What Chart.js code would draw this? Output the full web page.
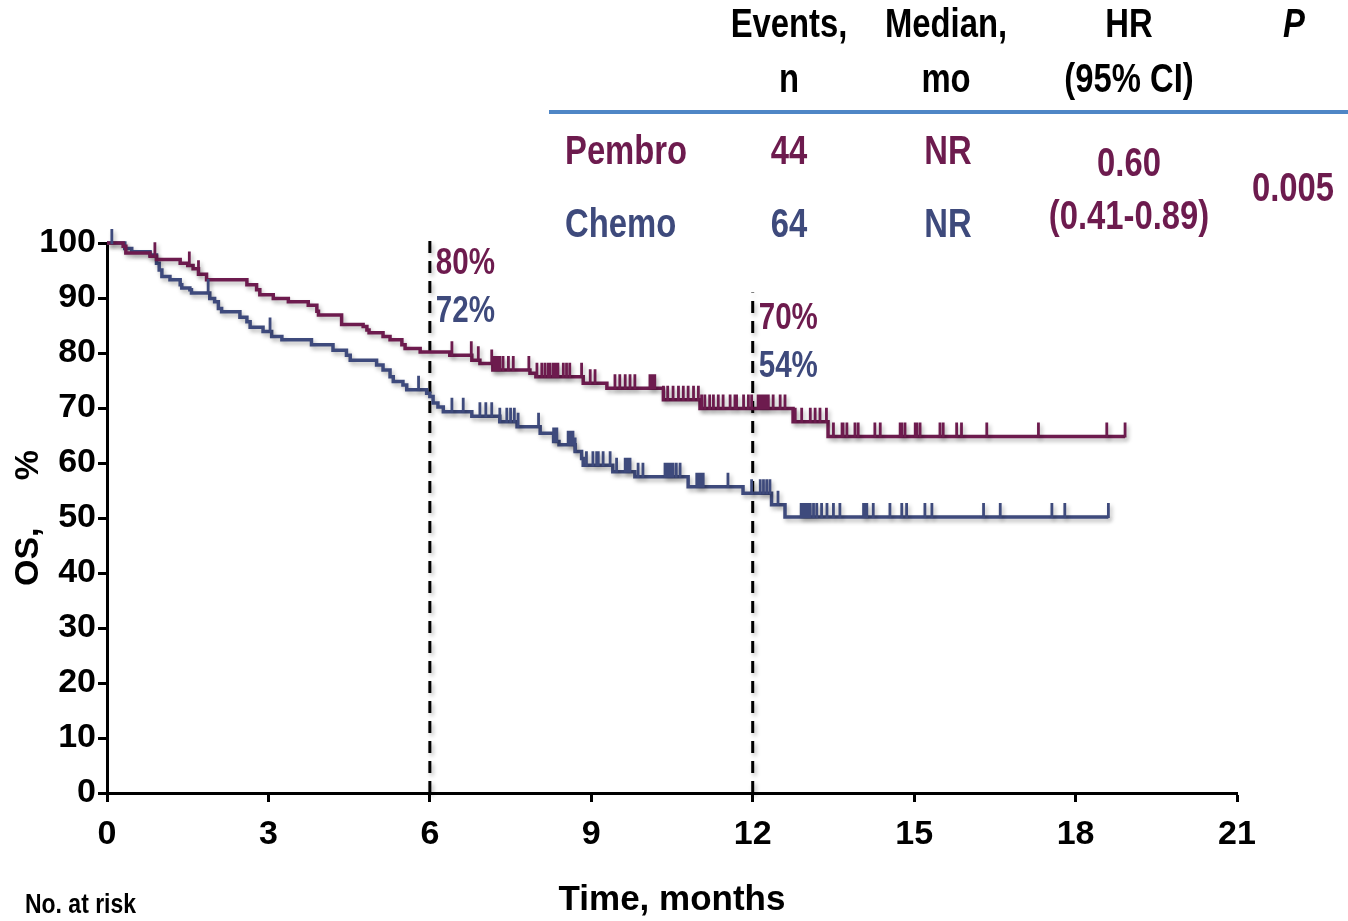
<!DOCTYPE html>
<html>
<head>
<meta charset="utf-8">
<script src="https://cdn.jsdelivr.net/npm/chart.js@4.4.1/dist/chart.umd.min.js"></script>
<style>
  body { margin: 0; background: #fff; }
  #wrap { position: relative; width: 1348px; height: 921px; overflow: hidden; }
  #km { position: absolute; left: 0; top: 0; }
  .t { position: absolute; font-family: 'Liberation Sans', Arial, sans-serif; font-weight: bold; font-size: 40px; white-space: nowrap; line-height: 1; }
  .c { transform: translate(-50%, -50%) scaleX(0.82); }
  .l { transform-origin: 0 50%; transform: translate(0, -50%) scaleX(0.82); }
  .pem { color: #6d1b4e; }
  .che { color: #3e4a7c; }
  #rule { position: absolute; left: 549px; top: 110px; width: 799px; height: 4px; background: #4f86c6; }
</style>
</head>
<body>
<div id="wrap">
  <canvas id="km" width="1348" height="921"></canvas>
  <div class="t c" style="left:789px;top:23px">Events,</div>
  <div class="t c" style="left:789px;top:78px">n</div>
  <div class="t c" style="left:946px;top:23px">Median,</div>
  <div class="t c" style="left:946px;top:78px">mo</div>
  <div class="t c" style="left:1129px;top:23px">HR</div>
  <div class="t c" style="left:1129px;top:78px">(95% CI)</div>
  <div class="t c" style="left:1294px;top:23px;font-style:italic">P</div>
  <div id="rule"></div>
  <div class="t l pem" style="left:565px;top:150px">Pembro</div>
  <div class="t c pem" style="left:789px;top:150px">44</div>
  <div class="t c pem" style="left:948px;top:150px">NR</div>
  <div class="t l che" style="left:565px;top:223px">Chemo</div>
  <div class="t c che" style="left:789px;top:223px">64</div>
  <div class="t c che" style="left:948px;top:223px">NR</div>
  <div class="t c pem" style="left:1129px;top:162px">0.60</div>
  <div class="t c pem" style="left:1129px;top:215px">(0.41-0.89)</div>
  <div class="t c pem" style="left:1293px;top:187px">0.005</div>
  <div class="t l" style="left:25px;top:904px;font-size:28px">No. at risk</div>
</div>
<script>
"use strict";

// step times (months) and survival (%) right after each step
var pembroTimes = [0, 0.3, 0.35, 0.8, 0.92, 1.36, 1.5, 1.6, 1.7, 1.85, 2.6, 2.78, 2.84, 3.09, 3.37, 3.74, 3.9, 3.93, 4.36, 4.76, 4.83, 4.87, 5.13, 5.26, 5.48, 5.54, 5.82, 6.37, 6.78, 6.93, 7.17, 7.86, 7.97, 8.85, 9.29, 10.34, 11.02, 12.75, 13.4, 18.92];
var pembroSurv = [100, 99.4, 98.2, 97.6, 97.0, 96.3, 95.9, 95.3, 94.3, 93.3, 92.4, 91.5, 90.6, 89.9, 89.3, 88.7, 87.6, 86.9, 85.2, 84.8, 84.2, 83.7, 83.0, 82.4, 81.5, 80.8, 80.2, 79.6, 78.7, 78.1, 76.9, 76.3, 75.7, 74.5, 73.6, 71.5, 69.9, 67.5, 64.8, 64.8];

var chemoTimes = [0, 0.33, 0.46, 0.8, 0.92, 0.97, 1.02, 1.17, 1.36, 1.39, 1.54, 1.57, 1.91, 2.0, 2.07, 2.13, 2.47, 2.6, 2.66, 2.9, 3.06, 3.25, 3.8, 4.2, 4.45, 4.52, 5.01, 5.13, 5.26, 5.32, 5.5, 5.57, 5.94, 6.0, 6.06, 6.15, 6.25, 6.78, 7.3, 7.62, 8.05, 8.3, 8.4, 8.7, 8.82, 8.85, 9.4, 9.81, 10.8, 11.82, 12.35, 12.6, 18.61];
var chemoSurv = [100, 99.0, 98.4, 97.8, 96.3, 95.1, 93.9, 93.3, 92.4, 91.8, 91.5, 90.9, 89.9, 89.3, 88.1, 87.5, 86.5, 85.7, 84.7, 83.9, 83.0, 82.4, 81.5, 80.5, 79.6, 78.7, 77.8, 76.9, 75.7, 74.8, 74.2, 73.3, 72.7, 72.1, 70.9, 70.2, 69.3, 68.5, 67.5, 66.6, 65.4, 63.9, 63.3, 62.1, 60.8, 59.6, 58.4, 57.5, 55.7, 54.5, 52.4, 50.2, 50.2];

// censored observations (months)
var pembroCensor = [0.89, 1.53, 1.7, 6.41, 6.77, 6.9, 7.15, 7.19, 7.23, 7.27, 7.3, 7.36, 7.46, 7.55, 7.84, 7.99, 8.08, 8.14, 8.2, 8.23, 8.29, 8.33, 8.38, 8.48, 8.54, 8.6, 8.82, 8.98, 9.07, 9.44, 9.53, 9.63, 9.72, 9.81, 10.09, 10.13, 10.18, 10.34, 10.42, 10.52, 10.62, 10.71, 10.8, 10.9, 10.99, 11.05, 11.11, 11.2, 11.27, 11.36, 11.45, 11.58, 11.67, 11.7, 11.83, 11.92, 11.98, 12.1, 12.15, 12.2, 12.25, 12.29, 12.38, 12.51, 12.6, 12.79, 12.91, 13.07, 13.16, 13.25, 13.37, 13.5, 13.66, 13.68, 13.75, 13.9, 13.96, 14.27, 14.37, 14.74, 14.77, 14.83, 15.02, 15.05, 15.11, 15.48, 15.54, 15.79, 15.88, 16.35, 17.31, 18.58, 18.92];
var chemoCensor = [0.09, 1.88, 3.03, 5.79, 6.41, 6.62, 6.93, 7.04, 7.15, 7.3, 7.43, 7.5, 7.57, 7.64, 8.02, 8.3, 8.33, 8.36, 8.57, 8.62, 8.66, 8.7, 8.91, 9.03, 9.1, 9.13, 9.22, 9.35, 9.47, 9.63, 9.68, 9.72, 9.87, 9.96, 10.37, 10.42, 10.47, 10.52, 10.58, 10.65, 10.96, 11.0, 11.04, 11.08, 11.54, 11.98, 12.14, 12.2, 12.26, 12.32, 12.47, 12.9, 12.94, 12.98, 13.02, 13.07, 13.13, 13.19, 13.28, 13.38, 13.5, 13.62, 14.06, 14.09, 14.12, 14.24, 14.55, 14.77, 14.86, 15.2, 15.33, 16.29, 16.6, 17.56, 17.8, 18.61];

// landmark lines
var landmarkMonths = [6, 12];
var landmarkTop = [101, 91];
var landmarkPembro = ["80%", "70%"];
var landmarkChemo = ["72%", "54%"];

var xTicks = [0, 3, 6, 9, 12, 15, 18, 21];
var yTicks = [0, 10, 20, 30, 40, 50, 60, 70, 80, 90, 100];

var PEMBRO = "#6d1b4e";
var CHEMO = "#3e4a7c";
var SANS = "'Liberation Sans', Arial, sans-serif";

function toPoints(times, vals) {
  var out = [];
  for (var i = 0; i < times.length; i++) out.push({ x: times[i], y: vals[i] });
  return out;
}

function survAt(times, vals, t) {
  var s = vals[0];
  for (var i = 0; i < times.length; i++) {
    if (times[i] <= t) s = vals[i];
  }
  return s;
}

var datasets = [
  { label: "Pembro", data: toPoints(pembroTimes, pembroSurv), stepped: true, borderColor: PEMBRO, borderWidth: 3.5, pointRadius: 0, fill: false, clip: false },
  { label: "Chemo", data: toPoints(chemoTimes, chemoSurv), stepped: true, borderColor: CHEMO, borderWidth: 3.5, pointRadius: 0, fill: false, clip: false }
];
landmarkMonths.forEach(function (m, i) {
  datasets.push({ label: "lm" + m, data: [{ x: m, y: 0 }, { x: m, y: landmarkTop[i] }], borderColor: "#000", borderWidth: 3, borderDash: [12, 8], pointRadius: 0, fill: false, clip: false });
});

var extras = {
  id: "extras",
  beforeDatasetsDraw: function (chart) {
    var ctx = chart.ctx;
    ctx.save();
    ctx.shadowColor = "rgba(0,0,0,0.28)";
    ctx.shadowBlur = 4;
    ctx.shadowOffsetX = 2;
    ctx.shadowOffsetY = 3;
  },
  afterDatasetsDraw: function (chart) {
    var ctx = chart.ctx;
    var xs = chart.scales.x, ys = chart.scales.y;
    function ticks(list, times, vals, col) {
      ctx.strokeStyle = col;
      ctx.lineWidth = 2.8;
      ctx.beginPath();
      list.forEach(function (t) {
        var px = xs.getPixelForValue(t);
        var py = ys.getPixelForValue(survAt(times, vals, t));
        ctx.moveTo(px, py + 1);
        ctx.lineTo(px, py - 14);
      });
      ctx.stroke();
    }
    ticks(pembroCensor, pembroTimes, pembroSurv, PEMBRO);
    ticks(chemoCensor, chemoTimes, chemoSurv, CHEMO);
    ctx.restore();

    // landmark percentages (narrowed like the original's condensed face)
    ctx.save();
    ctx.font = "bold 36px " + SANS;
    ctx.textAlign = "left";
    ctx.textBaseline = "middle";
    landmarkMonths.forEach(function (m, i) {
      var px = xs.getPixelForValue(m) + 6;
      var top = ys.getPixelForValue(landmarkTop[i]);
      ctx.save();
      ctx.translate(px, top);
      ctx.scale(0.82, 1);
      ctx.fillStyle = PEMBRO;
      ctx.fillText(landmarkPembro[i], 0, 27);
      ctx.fillStyle = CHEMO;
      ctx.fillText(landmarkChemo[i], 0, 75);
      ctx.restore();
    });
    ctx.restore();
  }
};

new Chart(document.getElementById("km"), {
  type: "line",
  data: { datasets: datasets },
  options: {
    responsive: false,
    animation: false,
    events: [],
    layout: { padding: { left: 0, right: 111, top: 243, bottom: 0 } },
    plugins: { legend: { display: false }, tooltip: { enabled: false } },
    scales: {
      x: {
        type: "linear", min: 0, max: 21,
        afterBuildTicks: function (s) { s.ticks = xTicks.map(function (v) { return { value: v }; }); },
        afterFit: function (s) { s.height = 128; },
        ticks: { color: "#000", font: { family: SANS, size: 34, weight: "bold" }, padding: 12, maxRotation: 0 },
        grid: { drawOnChartArea: false, drawTicks: true, tickLength: 9, tickColor: "#000", tickWidth: 3 },
        border: { color: "#000", width: 3 },
        title: { display: true, text: "Time, months", color: "#000", font: { family: SANS, size: 35, weight: "bold", lineHeight: 1.2 }, padding: { top: 0, bottom: 0 } }
      },
      y: {
        type: "linear", min: 0, max: 100,
        afterBuildTicks: function (s) { s.ticks = yTicks.map(function (v) { return { value: v }; }); },
        afterFit: function (s) { s.width = 107; },
        ticks: { color: "#000", font: { family: SANS, size: 34, weight: "bold" }, padding: 2 },
        grid: { drawOnChartArea: false, drawTicks: true, tickLength: 9, tickColor: "#000", tickWidth: 3 },
        border: { color: "#000", width: 3 },
        title: { display: true, text: "OS,     %", color: "#000", font: { family: SANS, size: 34, weight: "bold" }, padding: { top: 8, bottom: 0 } }
      }
    }
  },
  plugins: [extras]
});
</script>
</body>
</html>
